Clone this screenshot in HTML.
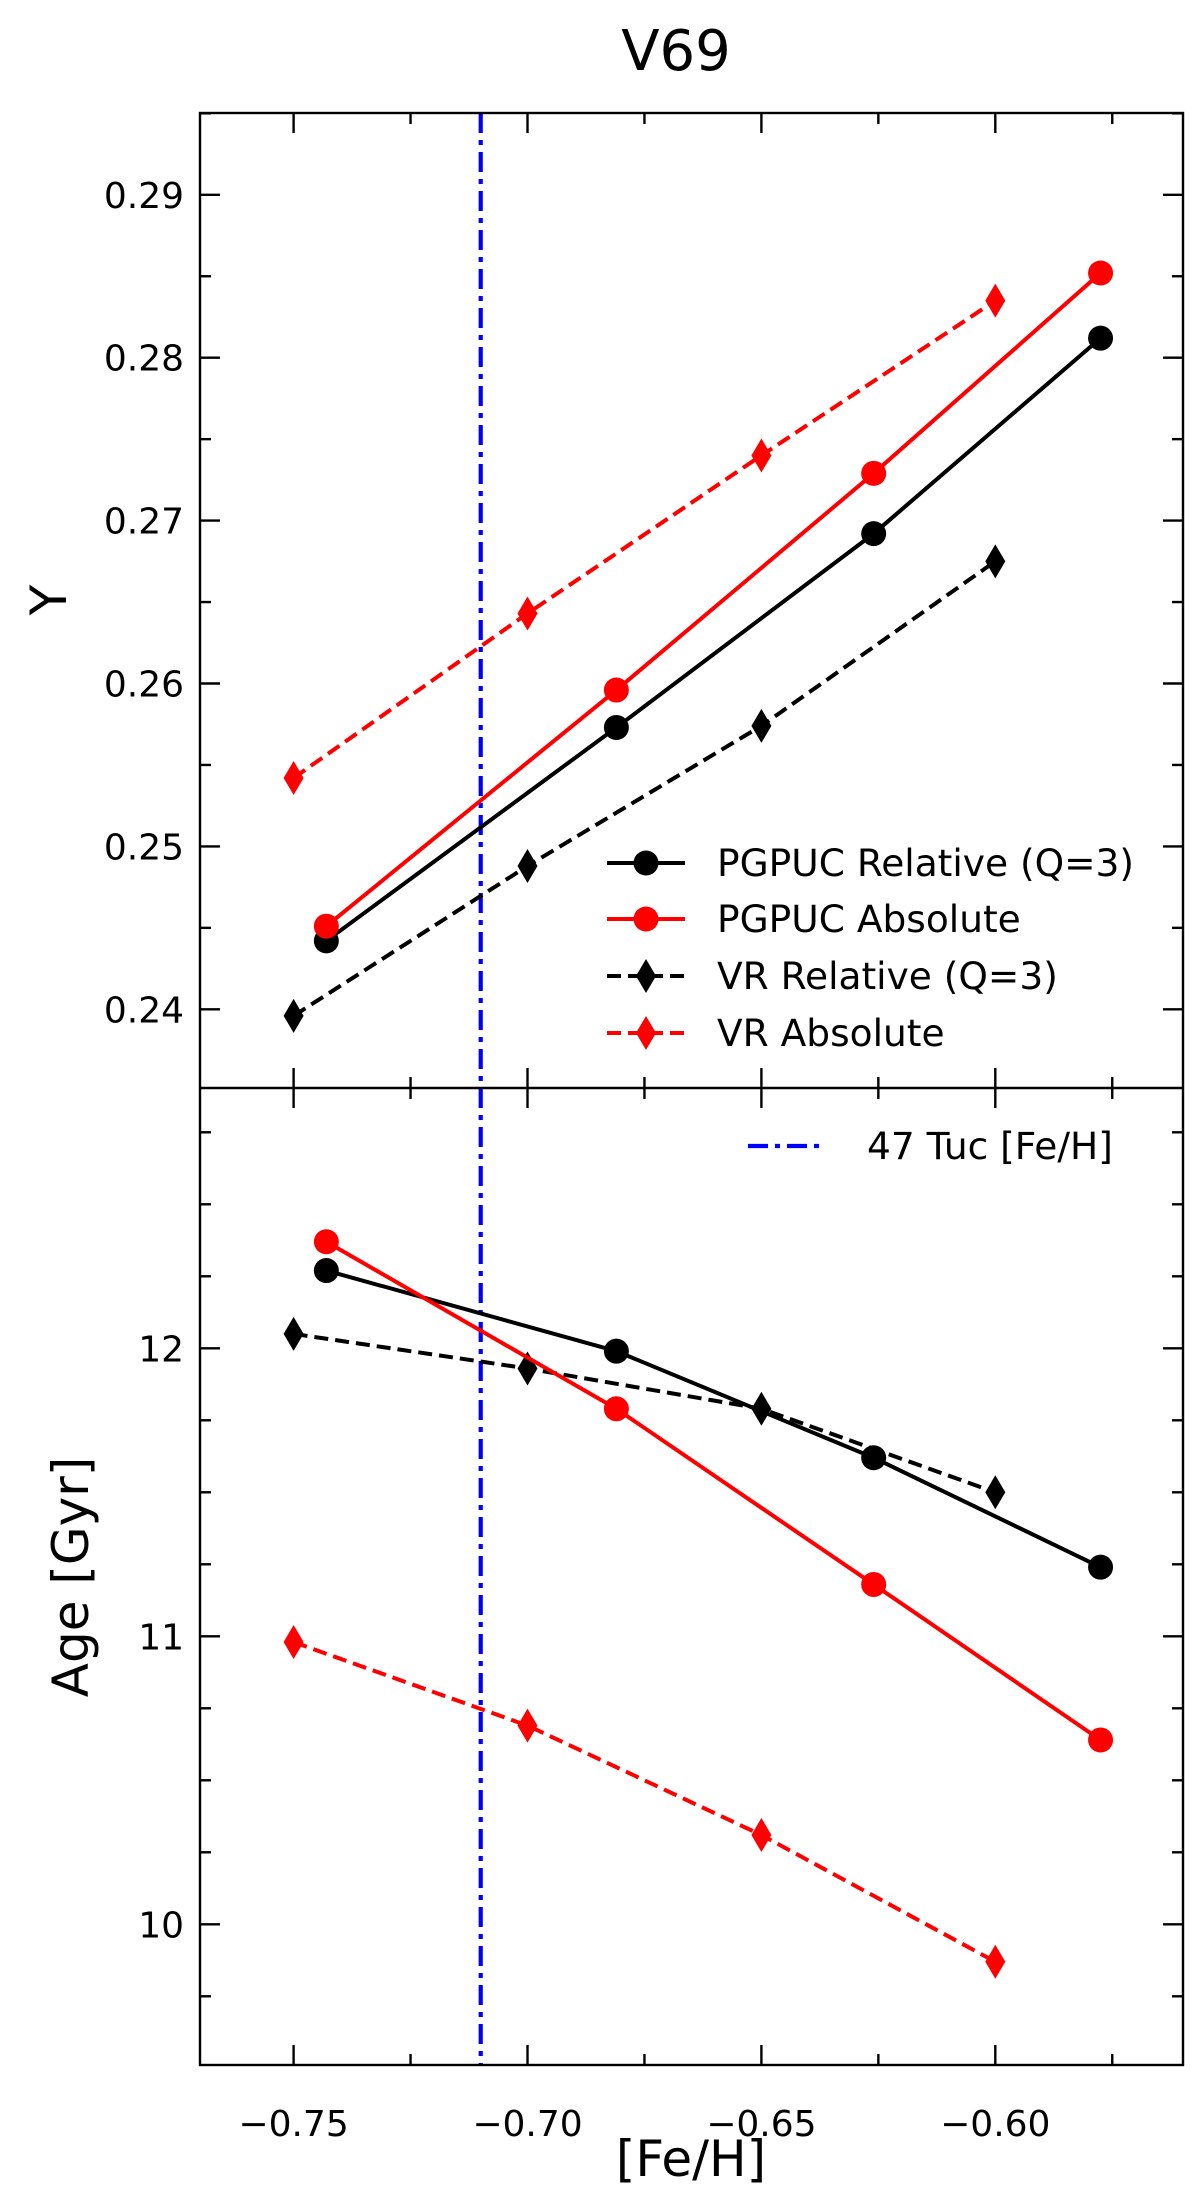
<!DOCTYPE html>
<html><head><meta charset="utf-8"><style>
body{margin:0;background:#fff}
svg text{font-family:"DejaVu Sans","Liberation Sans",sans-serif;fill:#000}
</style></head><body>
<svg id="chart" width="1200" height="2199" xmlns="http://www.w3.org/2000/svg">
<text x="676" y="70" font-size="56" text-anchor="middle">V69</text>
<g id="g"></g>
</svg>
<script>
const xPG=[-0.743,-0.681,-0.626,-0.5775];
const xVR=[-0.75,-0.70,-0.65,-0.60];
const yPGRel=[0.2442,0.2573,0.2692,0.2812];
const yPGAbs=[0.2451,0.2596,0.2729,0.2852];
const yVRRel=[0.2396,0.2488,0.2574,0.2675];
const yVRAbs=[0.2542,0.2643,0.2740,0.2835];
const agePGRel=[12.27,11.99,11.62,11.24];
const agePGAbs=[12.37,11.79,11.18,10.64];
const ageVRRel=[12.05,11.93,11.79,11.50];
const ageVRAbs=[10.98,10.69,10.31,9.87];
const tucFeH=-0.71;
const xTicks=[-0.75,-0.70,-0.65,-0.60];
const xTickLabels=["\u22120.75","\u22120.70","\u22120.65","\u22120.60"];
const yTopTicks=[0.24,0.25,0.26,0.27,0.28,0.29];
const yBotTicks=[10,11,12];

const L=200,R=1183,T=113,M=1088,B=2065;
const X=v=>293.6+(v+0.75)/0.15*701.7;
const YT=v=>194.8+(0.29-v)*16290;
const YB=v=>1348.3+(12-v)*288;
const g=document.getElementById('g');
const NS='http://www.w3.org/2000/svg';
function el(t,a,p){const e=document.createElementNS(NS,t);for(const k in a)e.setAttribute(k,a[k]);(p||g).appendChild(e);return e;}

let vl=el('line',{x1:X(tucFeH),x2:X(tucFeH),y1:T,y2:B,stroke:'#0000ff','stroke-width':4.2,'stroke-dasharray':'20 7 5 7'});



function xTicksPanel(top,bot){
  for(let v=-0.775;v<=-0.56;v+=0.025){
    const vv=Math.round(v*1000)/1000;if(X(vv)<L||X(vv)>R)continue;
    const major=Math.abs(Math.round(vv*20)-vv*20)<1e-6;const len=major?20:11;
    el('line',{x1:X(vv),x2:X(vv),y1:top,y2:top+len,stroke:'#000','stroke-width':2.4});
    el('line',{x1:X(vv),x2:X(vv),y1:bot,y2:bot-len,stroke:'#000','stroke-width':2.4});
  }
}
xTicksPanel(T,M);xTicksPanel(M,B);
for(let v=0.235;v<=0.2951;v+=0.005){const y=YT(v);if(y<T||y>M)continue;
  const major=Math.abs(Math.round(v*100)-v*100)<1e-6;const len=major?20:11;
  el('line',{x1:L,x2:L+len,y1:y,y2:y,stroke:'#000','stroke-width':2.4});
  el('line',{x1:R,x2:R-len,y1:y,y2:y,stroke:'#000','stroke-width':2.4});}
for(let v=9.5;v<=12.9;v+=0.25){const y=YB(v);if(y<M||y>B)continue;
  const major=Math.abs(Math.round(v)-v)<1e-6;const len=major?20:11;
  el('line',{x1:L,x2:L+len,y1:y,y2:y,stroke:'#000','stroke-width':2.4});
  el('line',{x1:R,x2:R-len,y1:y,y2:y,stroke:'#000','stroke-width':2.4});}
yTopTicks.forEach(v=>{const t=el('text',{x:184,y:YT(v)+13,'font-size':36,'text-anchor':'end'});t.textContent=v.toFixed(2);

});
yBotTicks.forEach(v=>{const t=el('text',{x:184,y:YB(v)+13,'font-size':36,'text-anchor':'end'});t.textContent=v;

});
xTicks.forEach((v,i)=>{const t=el('text',{x:X(v),y:2136,'font-size':36,'text-anchor':'middle'});t.textContent=xTickLabels[i];

});

el('rect',{x:L,y:T,width:R-L,height:B-T,fill:'none',stroke:'#000','stroke-width':2.4});
el('line',{x1:L,x2:R,y1:M,y2:M,stroke:'#000','stroke-width':2.4});

let t1=el('text',{x:691,y:2176,'font-size':50,'text-anchor':'middle'});t1.textContent='[Fe/H]';


let t2=el('text',{x:66,y:600,'font-size':50,'text-anchor':'middle',transform:'rotate(-90 66 600)'});t2.textContent='Y';


let t3=el('text',{x:88,y:1577,'font-size':50,'text-anchor':'middle',transform:'rotate(-90 88 1577)'});t3.textContent='Age [Gyr]';



function marker(x,y,shape,color,name){
  let m;
  if(shape==='o')m=el('circle',{cx:x,cy:y,r:12.5,fill:color});
  else m=el('polygon',{points:`${x},${y-17} ${x+10},${y} ${x},${y+17} ${x-10},${y}`,fill:color});
  
  
}
function series(xs,ys,Y,color,dash,shape,name){
  const pts=xs.map((v,i)=>X(v)+','+Y(ys[i])).join(' ');
  const p=el('polyline',{points:pts,fill:'none',stroke:color,'stroke-width':4,'stroke-dasharray':dash?'14 7':'none'});
  
  
  xs.forEach((v,i)=>marker(X(v),Y(ys[i]),shape,color,name+'-point'));
}
series(xVR,yVRAbs,YT,'#ff0000',true,'d','vr-absolute-y');
series(xVR,yVRRel,YT,'#000',true,'d','vr-relative-y');
series(xPG,yPGRel,YT,'#000',false,'o','pgpuc-relative-y');
series(xPG,yPGAbs,YT,'#ff0000',false,'o','pgpuc-absolute-y');
series(xVR,ageVRAbs,YB,'#ff0000',true,'d','vr-absolute-age');
series(xVR,ageVRRel,YB,'#000',true,'d','vr-relative-age');
series(xPG,agePGRel,YB,'#000',false,'o','pgpuc-relative-age');
series(xPG,agePGAbs,YB,'#ff0000',false,'o','pgpuc-absolute-age');

const legend=[['PGPUC Relative (Q=3)','#000',false,'o',863],['PGPUC Absolute','#ff0000',false,'o',919],['VR Relative (Q=3)','#000',true,'d',976],['VR Absolute','#ff0000',true,'d',1033]];
legend.forEach(([lab,c,d,s,y])=>{
  const ln=el('line',{x1:607,x2:685,y1:y,y2:y,stroke:c,'stroke-width':4,'stroke-dasharray':d?'14 7':'none'});
  
  
  marker(646,y,s,c,'legend-marker');
  const t=el('text',{x:717,y:y+13,'font-size':37.5});t.textContent=lab;
  
  
});
const ll=el('line',{x1:748,x2:826,y1:1146,y2:1146,stroke:'#0000ff','stroke-width':4.2,'stroke-dasharray':'20 7 5 7'});


const lt=el('text',{x:867,y:1159,'font-size':37.5});lt.textContent='47 Tuc [Fe/H]';


</script>
</body></html>
